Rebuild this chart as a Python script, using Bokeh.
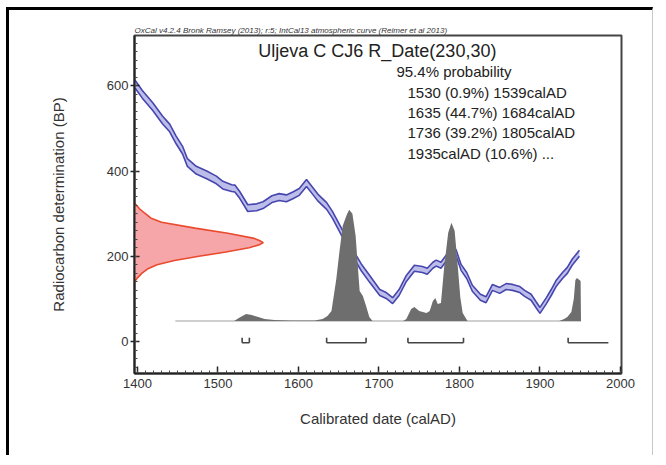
from bokeh.plotting import figure
from bokeh.models import Range1d, FixedTicker, Label, Title
from bokeh.embed import file_html
from bokeh.resources import INLINE

# ---- data ----
# IntCal13 calibration curve (calAD, BP, 1-sigma)
curve_year = [1397, 1406, 1419, 1431, 1440, 1448, 1456, 1462, 1473, 1486, 1498, 1506,
              1517, 1521, 1527, 1537, 1548, 1556, 1567, 1576, 1585, 1593, 1601, 1610,
              1617, 1624, 1635, 1642, 1655, 1667, 1678, 1688, 1701, 1709, 1717, 1725,
              1734, 1744, 1754, 1760, 1767, 1771, 1777, 1786, 1791, 1796, 1802, 1809,
              1816, 1826, 1833, 1841, 1850, 1858, 1866, 1875, 1881, 1889, 1895, 1900,
              1908, 1914, 1920, 1928, 1934, 1940, 1949]
curve_bp = [604, 580, 551, 520, 501, 473, 449, 420, 402, 391, 379, 367,
            360, 359, 344, 313, 315, 320, 334, 339, 336, 343, 351, 372,
            355, 338, 318, 298, 252, 209, 174, 148, 115, 108, 96, 115,
            148, 172, 169, 165, 179, 184, 179, 202, 221, 207, 174, 155,
            125, 104, 98, 127, 120, 129, 127, 122, 113, 104, 87, 73,
            96, 115, 136, 155, 167, 186, 207]
curve_err = [9, 9, 9, 9, 9, 9, 9, 9, 9, 9, 9, 9,
             8, 8, 8, 8, 8, 8, 8, 8, 8, 8, 8, 8,
             8, 8, 8, 8, 8, 8, 8, 8, 7, 7, 7, 7,
             7, 7, 7, 7, 7, 7, 7, 7, 7, 7, 7, 7,
             7, 7, 7, 7, 7, 7, 7, 7, 7, 7, 7, 7,
             7, 7, 7, 7, 7, 7, 7]

# R_Date(230,30) measurement distribution (BP, relative probability)
meas_bp = [140, 150, 160, 170, 180, 190, 200, 210, 220, 227, 232, 237, 242, 254, 266,
           280, 290, 301, 312, 325]
meas_prob = [0.0, 0.025, 0.056, 0.10, 0.175, 0.31, 0.50, 0.71, 0.89, 0.97, 1.0, 0.97,
             0.93, 0.725, 0.47, 0.21, 0.125, 0.08, 0.037, 0.0]

# calibrated date distribution (calAD, relative probability)
post_year = [1447, 1520, 1528, 1535, 1542, 1550, 1558, 1570, 1590, 1620, 1630, 1636, 1641,
             1647, 1651, 1655, 1660, 1663, 1667, 1671, 1674, 1676, 1680, 1684, 1688, 1692,
             1730, 1734, 1740, 1744, 1750, 1759, 1763, 1767, 1770, 1773, 1777, 1781, 1786,
             1790, 1794, 1798, 1801, 1804, 1810, 1924, 1930, 1934, 1939, 1942, 1944, 1946,
             1949, 1950.5, 1951]
post_prob = [0.0, 0.0, 0.036, 0.063, 0.054, 0.036, 0.018, 0.009, 0.005, 0.005, 0.018, 0.045,
             0.09, 0.378, 0.631, 0.856, 0.955, 1.0, 0.964, 0.766, 0.468, 0.27, 0.225, 0.135,
             0.036, 0.0, 0.0, 0.018, 0.108, 0.126, 0.09, 0.072, 0.09, 0.18, 0.207, 0.153,
             0.162, 0.486, 0.793, 0.883, 0.811, 0.486, 0.216, 0.072, 0.0, 0.0, 0.018, 0.036,
             0.081, 0.198, 0.369, 0.387, 0.369, 0.36, 0.0]

# 95.4% ranges
range_from = [1530, 1635, 1736, 1935]
range_to = [1539, 1684, 1805, 1985]
range_closed = [True, True, True, False]

x_ticks = [1400, 1500, 1600, 1700, 1800, 1900, 2000]
y_ticks = [0, 200, 400, 600]

title_text = "Uljeva C CJ6 R_Date(230,30)"
credit_text = "OxCal v4.2.4 Bronk Ramsey (2013); r:5; IntCal13 atmospheric curve (Reimer et al 2013)"
prob_head = "95.4% probability"
prob_lines = ["1530 (0.9%) 1539calAD", "1635 (44.7%) 1684calAD",
              "1736 (39.2%) 1805calAD", "1935calAD (10.6%) ..."]
x_title = "Calibrated date (calAD)"
y_title = "Radiocarbon determination (BP)"

# ---- figure ----
X0, X1 = 1396.3, 2001.3
Y0, Y1 = -75, 718
FONT = "Liberation Sans"

p = figure(width=647, height=448, output_backend="svg", toolbar_location=None,
           x_range=Range1d(X0, X1), y_range=Range1d(Y0, Y1),
           min_border_left=125, min_border_right=35, min_border_top=25,
           min_border_bottom=85)
p.styles = {"border-left": "3px solid #000", "border-top": "3px solid #000",
            "border-right": "1px solid #c8c8c8", "margin-top": "7px", "margin-left": "6px"}
p.grid.visible = False
p.background_fill_color = "white"
p.border_fill_color = "white"
p.outline_line_color = "#444444"
p.outline_line_width = 2

xmin = list(range(1400, 2001, 10))
ymin = list(range(-60, 701, 20))
p.xaxis.ticker = FixedTicker(ticks=x_ticks, minor_ticks=xmin)
p.yaxis.ticker = FixedTicker(ticks=y_ticks, minor_ticks=ymin)
for ax in (p.xaxis, p.yaxis):
    ax.axis_line_color = "#222222"
    ax.axis_line_width = 2
    ax.major_tick_line_color = "#222222"
    ax.major_tick_line_width = 1.5
    ax.minor_tick_line_color = "#444444"
    ax.minor_tick_line_width = 1
    ax.major_label_text_font = FONT
    ax.major_label_text_font_size = "13px"
    ax.major_label_text_color = "#333333"
p.xaxis.major_tick_in = 7
p.xaxis.major_tick_out = 0
p.xaxis.minor_tick_in = 3
p.xaxis.minor_tick_out = 0
p.xaxis.major_label_standoff = 5
p.yaxis.major_tick_in = 5
p.yaxis.major_tick_out = 4
p.yaxis.minor_tick_in = 3
p.yaxis.minor_tick_out = 0
p.yaxis.major_label_standoff = 2

p.xaxis.axis_label = x_title
p.xaxis.axis_label_text_font = FONT
p.xaxis.axis_label_text_font_size = "15px"
p.xaxis.axis_label_text_font_style = "normal"
p.xaxis.axis_label_text_color = "#333333"
p.xaxis.axis_label_standoff = 19

p.add_layout(Title(text=y_title, align="center", offset=33, standoff=73,
                   text_font=FONT, text_font_size="15px", text_font_style="normal",
                   text_color="#333333"), "left")
p.add_layout(Title(text=credit_text, align="left", standoff=1,
                   text_font=FONT, text_font_size="8px", text_font_style="italic",
                   text_color="#333333"), "above")

# calibration curve band
lo = [b - e for b, e in zip(curve_bp, curve_err)]
hi = [b + e for b, e in zip(curve_bp, curve_err)]
p.varea(x=curve_year, y1=lo, y2=hi, fill_color="#b6b6e8", fill_alpha=0.9)
p.line(curve_year, lo, line_color="#4646ae", line_width=1.6)
p.line(curve_year, hi, line_color="#4646ae", line_width=1.6)

# measurement distribution on the y axis
MEAS_W = 160
mx = [X0 + v * MEAS_W for v in meas_prob]
p.harea(y=meas_bp, x1=[X0] * len(meas_bp), x2=mx, fill_color="#f6a5a8")
p.line(mx, meas_bp, line_color="#ea4a2e", line_width=1.6)

# calibrated distribution
BASE = 48
POST_H = 261
py = [BASE + v * POST_H for v in post_prob]
p.line([post_year[0], post_year[-1]], [BASE, BASE], line_color="#cfcfcf", line_width=2)
p.varea(x=post_year, y1=[BASE] * len(post_year), y2=py, fill_color="#6e6e6e")

# range brackets
BY, BT = -3, 9
for a, b, c in zip(range_from, range_to, range_closed):
    p.line([a, b], [BY, BY], line_color="#444444", line_width=1.6)
    p.line([a, a], [BY, BT], line_color="#444444", line_width=1.6)
    if c:
        p.line([b, b], [BY, BT], line_color="#444444", line_width=1.6)

# texts inside the frame
p.add_layout(Label(x=1698, y=682, text=title_text, text_font=FONT, text_font_size="18px",
                   text_color="#222222", text_align="center", text_baseline="middle"))
p.add_layout(Label(x=1721.7, y=633, text=prob_head, text_font=FONT, text_font_size="15px",
                   text_color="#222222", text_baseline="middle"))
for i, t in enumerate(prob_lines):
    p.add_layout(Label(x=1735.4, y=583.5 - i * 47.1, text=t, text_font=FONT,
                       text_font_size="15px", text_color="#222222", text_baseline="middle"))

open("out.html", "w").write(file_html(p, INLINE))
